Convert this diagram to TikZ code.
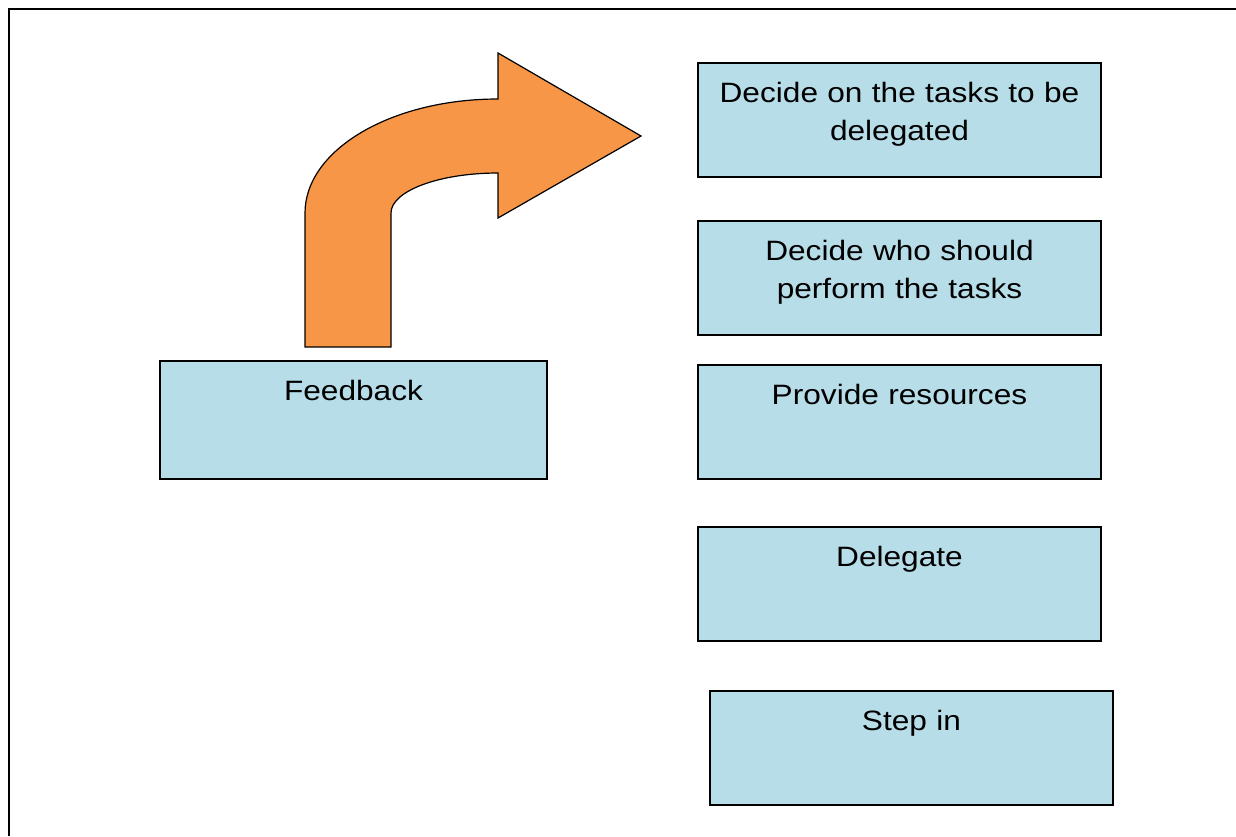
\documentclass[tikz,border=0pt]{standalone}
\usepackage{fontspec}
\setmainfont{Liberation Sans}[FakeStretch=1.13]
\usepackage{xcolor}
\usepackage{tikz}
\usetikzlibrary{positioning}
\definecolor{boxblue}{HTML}{B7DDE8}
\definecolor{arroworange}{HTML}{F79646}
\tikzset{task/.style={draw, line width=1.2pt, fill=boxblue, anchor=north west, outer sep=0pt, inner xsep=5pt, inner ysep=19pt, text width=393pt, align=center, text height=20pt, text depth=56pt, font=\fontsize{28}{38.5}\selectfont}}
\tikzset{turn/.style={draw, line width=1.2pt, fill=arroworange, line join=miter}}

\begin{document}
\begin{tikzpicture}[x=1pt,y=-1pt]
\useasboundingbox (0,0) rectangle (1236,836);
\draw[line width=2.5pt] (9,836) -- (9,9) -- (1236,9);
\draw[turn] (305,347) -- (305,213) .. controls (305,150) and (391,99) .. (498,99)
  -- (498,53) -- (641,136) -- (498,218) -- (498,173)
  .. controls (439,173) and (391,191) .. (391,213) -- (391,347) -- cycle;
\node[task] (t1) at (698,63) {Decide on the tasks to be\\delegated};
\node[task, below=44pt of t1] (t2) {Decide who should\\perform the tasks};
\node[task, below=30pt of t2] (t3) {Provide resources};
\node[task, below=48pt of t3] (t4) {Delegate};
\node[task, below=50pt of t4, xshift=12pt] (t5) {Step in};
\node[task, text width=377pt, text depth=60pt] (fb) at (160,361) {Feedback};
\end{tikzpicture}
\end{document}
